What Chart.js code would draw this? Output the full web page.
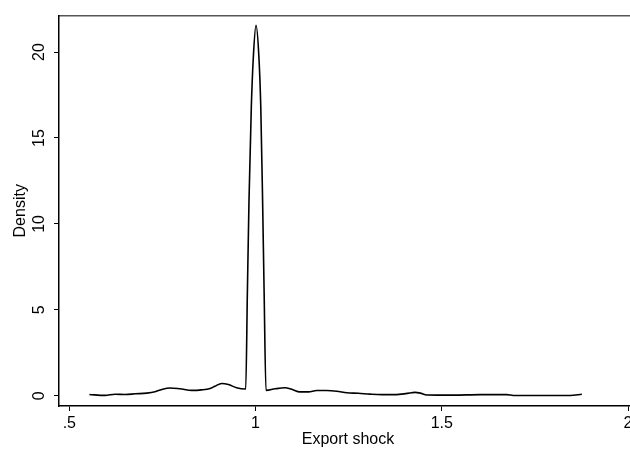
<!DOCTYPE html>
<html>
<head>
<meta charset="utf-8">
<script src="https://cdn.jsdelivr.net/npm/chart.js@4.4.1/dist/chart.umd.min.js"></script>
<style>
  html, body { margin: 0; padding: 0; background: #fff; overflow: hidden; }
  #wrap { width: 660px; height: 455px; }
</style>
</head>
<body>
<div id="wrap"><canvas id="c" width="660" height="455"></canvas></div>
<script>
// Kernel density of export shock
const shockX = [0.554, 0.596, 0.623, 0.650, 0.677, 0.708, 0.730, 0.748, 0.770, 0.797,
                0.829, 0.855, 0.878, 0.891, 0.909, 0.927, 0.949, 0.9736, 0.978, 0.9824,
                0.9886, 0.994, 1.0012, 1.009, 1.014, 1.019, 1.023, 1.028, 1.052, 1.079,
                1.097, 1.119, 1.142, 1.164, 1.191, 1.218, 1.245, 1.276, 1.307, 1.339,
                1.366, 1.392, 1.419, 1.428, 1.442, 1.460, 1.531, 1.603, 1.674, 1.692,
                1.764, 1.844, 1.876];
const densityY = [0.08, 0.03, 0.09, 0.08, 0.12, 0.16, 0.24, 0.37, 0.46, 0.41,
                  0.32, 0.35, 0.43, 0.56, 0.72, 0.66, 0.47, 0.40, 6.0, 11.4,
                  16.8, 19.7, 21.55, 19.7, 16.8, 11.2, 6.0, 0.32, 0.41, 0.47,
                  0.38, 0.23, 0.23, 0.31, 0.31, 0.27, 0.18, 0.15, 0.10, 0.07,
                  0.07, 0.10, 0.18, 0.20, 0.16, 0.05, 0.04, 0.07, 0.07, 0.02,
                  0.02, 0.02, 0.09];
const xTicks = [0.5, 1, 1.5, 2];
const xTickLabels = ['.5', '1', '1.5', '2'];
const yTicks = [0, 5, 10, 15, 20];
const yTickLabels = ['0', '5', '10', '15', '20'];
const xTitle = 'Export shock';
const yTitle = 'Density';

const points = shockX.map((x, i) => ({ x: x, y: densityY[i] }));
const FONT = 'Liberation Sans, Arial, sans-serif';
const X_MIN = 0.4723, X_MAX = 2.024, Y_MIN = -0.59, Y_MAX = 22.12;

new Chart(document.getElementById('c'), {
  type: 'scatter',
  data: {
    datasets: [{
      data: points,
      showLine: true,
      borderColor: '#000',
      borderWidth: 1.6,
      pointRadius: 0,
      cubicInterpolationMode: 'monotone',
      fill: false
    }]
  },
  options: {
    responsive: false,
    animation: false,
    events: [],
    layout: { padding: { top: 7, right: 23, bottom: 0, left: 0 } },
    plugins: { legend: { display: false }, tooltip: { enabled: false } },
    scales: {
      x: {
        type: 'linear', position: 'bottom', min: X_MIN, max: X_MAX,
        afterBuildTicks: s => { s.ticks = xTicks.map(v => ({ value: v })); },
        afterFit: s => { s.height = 49; },
        ticks: {
          color: '#000', font: { family: FONT, size: 16 }, padding: 3, maxRotation: 0,
          callback: (v) => xTickLabels[xTicks.indexOf(v)]
        },
        grid: { drawOnChartArea: false, drawTicks: true, tickLength: 5, color: '#000' },
        border: { display: true, color: '#000', width: 1.5 },
        title: { display: true, text: xTitle, color: '#000', font: { family: FONT, size: 16 }, padding: { top: 0, bottom: 6 } }
      },
      x2: {
        type: 'linear', position: 'top', min: X_MIN, max: X_MAX,
        afterFit: s => { s.height = 0; },
        ticks: { display: false },
        grid: { display: false },
        border: { display: true, color: '#555', width: 1.5 }
      },
      y: {
        type: 'linear', position: 'left', min: Y_MIN, max: Y_MAX,
        afterBuildTicks: s => { s.ticks = yTicks.map(v => ({ value: v })); },
        afterFit: s => { s.width = 59; },
        ticks: {
          color: '#000', font: { family: FONT, size: 16 }, padding: 6,
          minRotation: 90, maxRotation: 90, crossAlign: 'center',
          callback: (v) => yTickLabels[yTicks.indexOf(v)]
        },
        grid: { drawOnChartArea: false, drawTicks: true, tickLength: 5, color: '#000' },
        border: { display: true, color: '#000', width: 1.5 },
        title: { display: true, text: yTitle, color: '#000', font: { family: FONT, size: 16 }, padding: { top: 11, bottom: 0 } }
      }
    }
  }
});
</script>
</body>
</html>
